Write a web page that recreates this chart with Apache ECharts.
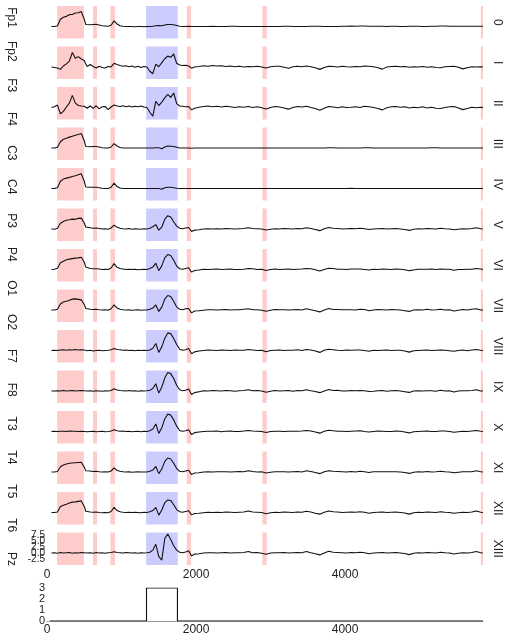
<!DOCTYPE html>
<html><head><meta charset="utf-8">
<script src="https://cdn.jsdelivr.net/npm/echarts@6/dist/echarts.min.js"></script>
<style>html,body{margin:0;padding:0;background:#fff}#c{width:510px;height:640px}</style>
</head><body><div id="c"></div><script>
// sample positions (shared by all channels)
const xs = [60,100,140,180,220,260,300,340,380,420,
 460,480,500,520,540,580,620,660,700,740,
 780,820,860,900,940,980,1020,1060,1100,1140,
 1180,1220,1260,1300,1340,1380,1420,1460,1500,1540,
 1580,1620,1660,1700,1740,1780,1820,1860,1900,1940,
 1980,
 2040,2100,2160,2220,2280,2340,2400,2460,2520,2580,
 2640,2700,2760,2820,2880,2940,3000,3060,3120,3180,
 3240,3300,3360,3420,3480,3540,3600,3660,3720,3780,
 3840,3900,3960,4020,4080,4140,4200,4260,4320,4380,
 4440,4500,4560,4620,4680,4740,4800,4860,4920,4980,
 5040,5100,5160,5220,5280,5340,5400,5460,5520,5580,
 5640,5700,5760,5820,5850];

const ch0 = [0,0,0.2,3.0,3.8,4.2,4.9,5.0,5.6,5.7,
 6.2,6.4,3.0,0.8,0.6,0.7,0.8,0.9,0.6,0.3,
 0.2,0.1,0.5,2.3,1.0,0.3,0.1,0,0,0,
 -0.1,0,0,-0.1,0,0,0.1,0.3,0.4,0.3,
 0.6,0.8,0.8,0.7,0.4,0.1,0,0,0.1,0,
 0,
 0,0,0,0.1,0,0,0,0.1,0.1,0,
 0,0,0,0,0,0,0,0,0,0.1,
 0.1,0,0,0,0,0.1,0.1,0.1,0,0,
 0,0,0.1,0.1,0.2,0.1,0.2,0.2,0.1,0.1,
 0.1,0.1,0,0.1,0.1,0,0,0.1,0.1,0.1,
 0,0,0.1,0.1,0.2,0.2,0.1,0.1,0.1,0.1,
 0.1,0.1,0.1,0.1,0.1];
const ch1 = [0,-0.2,-0.4,-1.0,0.4,1.3,2.4,6.0,3.6,4.3,
 3.3,2.9,2.7,1.2,0.2,1.0,0.2,-0.4,0.3,-0.2,
 -0.4,0.2,0.0,1.5,1.0,0.6,0.3,0.5,0.1,0.4,
 -0.1,0.3,-0.2,0.2,0.0,-1.8,-2.8,1.2,0.1,1.8,
 3.4,4.5,4.0,5.4,1.5,0.8,0.6,0.7,0.4,-0.5,
 0.0,
 0.2,0.5,0.3,0.6,0.4,0.5,0.2,0.4,0.1,0.3,
 0.0,0.2,0.1,0.3,0.0,-0.4,0.1,0.3,0.3,-0.1,
 -0.5,0.1,0.3,0.1,0.4,0.1,-0.3,-1.0,-0.2,0.3,
 0.2,0.0,0.3,0.1,0.0,0.2,0.1,0.4,0.3,0.1,
 -0.3,-0.9,0.0,0.2,0.3,0.1,0.2,-0.1,0.1,0.0,
 0.2,-0.1,0.1,-0.2,-0.3,0.1,0.2,0.3,-0.1,-0.8,
 -0.3,0.1,0.0,0.1,0.0];
const ch2 = [0,0.3,1.0,-2.6,-1.6,0.2,1.8,5.0,1.8,0.8,
 0.6,0.3,0.5,0.2,-0.3,0.6,-0.4,0.7,-0.6,0.3,
 0.4,-0.9,0.2,1.0,0.6,0.4,0.7,0.3,0.6,0.2,
 0.5,0.3,0.6,0.2,0.0,-2.0,-3.6,2.6,0.8,2.2,
 4.0,5.4,4.2,6.0,1.6,0.6,0.5,0.3,0.4,-1.0,
 -0.3,
 0.1,0.4,0.6,0.3,0.5,0.2,0.5,0.3,0.0,0.3,
 0.1,0.4,0.0,0.3,-0.1,-0.6,0.0,0.4,0.2,-0.2,
 -0.7,0.0,0.4,0.2,0.5,0.0,-0.4,-1.2,-0.3,0.4,
 0.2,-0.1,0.3,0.0,0.1,0.3,0.0,0.5,0.3,0.0,
 -0.4,-1.0,-0.1,0.3,0.4,0.1,0.3,-0.2,0.1,-0.1,
 0.3,-0.2,0.1,-0.3,-0.4,0.0,0.3,0.4,-0.2,-0.9,
 -0.4,0.1,-0.1,0.1,0.0];
const ch3 = [0,0,0.3,2.6,3.6,4.0,4.5,4.9,5.3,5.6,
 6.0,6.2,3.0,0.6,0.4,0.5,0.6,0.6,0.4,0.1,
 0,0,0.4,1.8,0.8,0.2,0,0,0,0,
 0,0,0,0,0,0,0,0.1,0.1,-0.3,
 0.4,0.8,0.7,0.6,0.3,0,0,0,0,-0.1,
 0,
 0,0,0,0,0,0,0,0,0,0,
 0,0,0,0,0,0,0,0,0,0,
 0,0,0,0,0,0,0,0,0,0.1,
 0.1,0,0,0,0,0,0,0.1,0.1,0,
 0,0,0,0,0,0,0,0,0,0,
 0,0,0.1,0.1,0,0,0,0,0,0,
 0,0,0,0,0];
const ch4 = [0,0,0.3,3.0,3.9,4.3,4.6,5.0,5.3,5.7,
 6.1,6.4,3.0,0.6,0.4,0.5,0.5,0.5,0.3,0.1,
 0,0,0.5,2.2,0.8,0.2,0,0,0,0,
 0,0,0,0,0,0,0,0,0,-0.3,
 0.3,0.5,0.5,0.3,0.1,0,0,0,0,0,
 0,
 0,0,0,0,0,0,0,0,0,0,
 0,0,0,0,0,0,0,0,0,0,
 0,0,0,0,0,0,0,0,0,0,
 0,0,0,0,0.1,0,0,0,0,0,
 0,0,0,0,0,0,0,0,0,0,
 0,0,0,0,0,0,0,0,0,0,
 0,0,0,0,0];
const ch5 = [0,-0.1,0.3,2.4,3.1,3.6,3.8,4.1,4.0,4.4,
 4.5,4.2,2.5,0.8,0.4,0.5,0.3,0.4,0.2,0.0,
 0.1,-0.1,0.4,1.6,0.7,0.3,0.1,0.0,0.2,-0.1,
 0.1,0.0,-0.1,0.1,0.0,0.3,0.9,1.8,-0.5,0.8,
 4.0,5.5,5.0,3.0,1.2,0.3,0.1,0.4,0.6,-1.0,
 -0.5,
 -0.3,0.0,0.1,0.0,0.1,0.0,0.2,0.1,0.0,0.1,
 0.2,0.5,0.2,0.1,0.0,-0.4,-0.1,0.1,0.0,0.2,
 0.1,0.0,0.2,0.1,0.5,0.2,-0.2,-0.7,0.1,0.6,
 0.3,0.2,0.0,0.1,0.2,0.1,0.3,0.1,-0.2,0.0,
 0.1,0.2,0.0,0.1,0.2,0.0,-0.2,-0.6,-0.1,0.1,
 0.0,0.2,0.1,0.0,0.3,0.1,0.0,-0.3,-0.1,0.1,
 0.0,0.2,0.5,0.1,0.0];
const ch6 = [0,0.1,0.5,2.8,3.4,4.0,4.3,4.5,4.7,4.8,
 5.1,4.9,3.0,1.0,0.5,0.4,0.3,0.3,0.2,0.0,
 0.1,0.0,0.6,2.4,0.9,0.4,0.2,0.0,0.1,0.0,
 0.1,-0.1,0.0,0.1,0.0,0.4,1.0,2.6,-0.5,1.5,
 4.8,6.2,5.8,3.8,1.4,0.3,0.1,0.4,0.7,-1.1,
 -0.4,
 -0.2,0.1,0.0,0.1,0.2,0.0,0.1,0.2,0.0,0.0,
 0.1,0.4,0.3,0.0,0.1,-0.4,0.0,0.2,0.0,0.1,
 0.2,0.0,0.1,0.2,0.4,0.3,-0.1,-0.6,0.0,0.5,
 0.4,0.1,0.1,0.0,0.2,0.2,0.2,0.0,-0.2,0.1,
 0.0,0.2,0.1,0.0,0.2,0.1,-0.1,-0.5,-0.2,0.1,
 0.1,0.1,0.2,0.0,0.2,0.1,0.1,-0.3,0.0,0.0,
 0.1,0.1,0.4,0.2,0.0];
const ch7 = [0,0,0.3,2.5,3.3,3.6,4.0,4.5,4.6,4.4,
 4.2,4.0,2.3,0.6,0.3,0.3,0.2,0.3,0.1,0.0,
 0.1,-0.1,0.5,2.1,0.8,0.3,0.1,0.0,0.1,-0.1,
 0.0,0.1,-0.1,0.0,0.0,0.3,0.8,2.1,-0.6,1.2,
 4.5,6.0,5.6,3.6,1.2,0.3,0.1,0.5,0.6,-1.2,
 -0.4,
 -0.3,-0.1,0.1,0.1,0.0,0.1,0.2,0.0,0.1,0.1,
 0.3,0.5,0.1,0.1,-0.1,-0.5,-0.1,0.2,0.1,0.1,
 0.0,0.1,0.2,0.0,0.5,0.1,-0.3,-0.8,0.0,0.6,
 0.2,0.2,0.1,0.1,0.1,0.0,0.3,0.2,-0.3,0.0,
 0.2,0.1,0.0,0.2,0.1,0.0,-0.3,-0.6,0.0,0.1,
 0.0,0.3,0.0,0.1,0.3,0.0,0.1,-0.4,-0.1,0.2,
 0.0,0.3,0.5,0.0,0.0];
const ch8 = [0,0.1,0.0,0.2,0.3,0.1,0.3,0.2,0.4,0.2,
 0.3,0.1,0.2,0.0,-0.1,0.1,-0.2,0.0,0.1,-0.1,
 0.0,0.1,0.3,0.8,0.4,0.3,0.1,0.2,0.0,0.1,
 -0.1,0.1,0.0,0.1,0.0,0.2,0.9,2.9,-0.8,1.5,
 5.0,7.3,7.0,5.0,2.5,0.5,0.1,0.3,0.8,-1.4,
 -0.6,
 -0.2,0.0,0.2,0.1,0.0,0.2,0.1,0.0,0.2,0.1,
 0.1,0.4,0.2,0.0,0.1,-0.5,0.0,0.1,0.2,0.0,
 0.1,0.1,0.3,0.0,0.4,0.2,-0.2,-0.8,0.1,0.5,
 0.3,0.1,0.0,0.2,0.1,0.2,0.2,0.0,-0.3,0.1,
 0.0,0.1,0.2,0.0,0.1,0.1,-0.2,-0.7,-0.1,0.0,
 0.1,0.2,0.0,0.1,0.2,0.1,-0.1,-0.3,0.0,0.2,
 -0.1,0.2,0.4,0.1,0.0];
const ch9 = [0,0.0,0.1,0.0,0.2,0.0,0.1,0.2,0.0,0.1,
 0.2,0.0,0.1,-0.1,0.0,0.1,-0.1,0.1,0.0,-0.1,
 0.1,0.0,0.2,0.9,0.4,0.2,0.1,0.0,0.2,0.0,
 0.1,-0.1,0.1,0.0,0.1,0.3,1.0,3.0,-0.9,1.6,
 5.4,7.7,7.2,5.2,2.4,0.5,0.1,0.3,0.8,-1.5,
 -0.7,
 -0.3,0.1,0.0,0.2,0.1,0.0,0.2,0.1,-0.1,0.1,
 0.2,0.5,0.1,0.2,0.0,-0.5,-0.1,0.2,0.0,0.1,
 0.2,-0.1,0.2,0.1,0.5,0.1,-0.2,-0.7,0.0,0.6,
 0.2,0.3,0.0,0.0,0.2,0.1,0.2,0.1,-0.2,-0.1,
 0.1,0.2,-0.1,0.1,0.2,0.0,-0.3,-0.6,0.0,0.1,
 0.0,0.1,0.1,-0.1,0.3,0.0,0.1,-0.4,0.0,0.1,
 0.1,0.2,0.5,0.0,0.0];
const ch10 = [0,0.1,0.0,0.1,0.1,0.0,0.2,0.1,0.1,0.0,
 0.1,0.2,0.0,0.1,-0.1,0.0,0.1,-0.1,0.0,0.1,
 -0.1,0.0,0.2,0.7,0.3,0.1,0.2,0.0,0.1,-0.1,
 0.0,0.1,-0.1,0.1,0.0,0.3,1.0,3.1,-0.8,1.5,
 5.2,7.2,6.8,4.8,2.2,0.4,0.1,0.3,0.7,-1.3,
 -0.5,
 -0.2,0.0,0.1,0.1,0.2,-0.1,0.1,0.2,0.0,0.0,
 0.2,0.4,0.2,0.1,0.0,-0.4,0.0,0.1,0.1,0.0,
 0.1,0.1,0.1,0.2,0.4,0.2,-0.2,-0.7,0.1,0.5,
 0.3,0.1,0.1,0.0,0.1,0.2,0.3,0.0,-0.2,0.0,
 0.2,0.1,0.0,0.0,0.2,0.1,-0.2,-0.6,-0.1,0.0,
 0.1,0.2,0.0,0.0,0.2,0.2,0.0,-0.3,-0.1,0.1,
 0.0,0.2,0.4,0.1,0.0];
const ch11 = [0,0.0,0.2,2.2,2.9,3.3,3.6,3.7,3.8,3.9,
 4.0,3.8,2.0,0.5,0.3,0.4,0.2,0.3,0.1,0.0,
 0.1,0.0,0.4,1.7,0.6,0.3,0.1,0.0,0.1,-0.1,
 0.0,0.1,0.0,0.0,0.0,0.3,0.8,2.3,-0.7,1.2,
 4.4,5.8,5.4,3.6,1.4,0.3,0.1,0.4,0.7,-1.1,
 -0.4,
 -0.3,0.0,0.1,0.0,0.1,0.1,0.1,0.0,0.1,0.2,
 0.1,0.5,0.2,0.0,0.1,-0.4,-0.1,0.1,0.1,0.1,
 0.0,0.1,0.2,0.0,0.5,0.2,-0.2,-0.7,0.1,0.5,
 0.3,0.2,0.1,0.0,0.2,0.0,0.3,0.1,-0.2,0.1,
 0.1,0.1,0.1,0.1,0.1,0.0,-0.2,-0.6,-0.1,0.1,
 0.0,0.2,0.0,0.1,0.3,0.1,0.0,-0.3,-0.1,0.1,
 0.1,0.1,0.5,0.1,0.0];
const ch12 = [0,0.0,0.2,2.5,3.0,3.4,3.9,4.3,4.4,4.6,
 4.8,4.6,2.5,0.5,0.0,0.2,0.1,0.2,0.0,-0.1,
 0.0,-0.1,0.4,2.1,0.8,0.3,0.1,0.0,0.1,0.0,
 0.1,0.0,-0.1,0.1,0.0,0.3,0.8,2.1,-1.1,1.0,
 4.0,5.2,5.0,3.2,1.2,0.3,0.1,0.4,0.7,-1.0,
 -0.4,
 -0.3,-0.1,0.1,0.0,0.1,0.0,0.2,0.1,0.0,0.1,
 0.2,0.6,0.2,0.1,0.0,-0.5,-0.1,0.1,0.0,0.2,
 0.1,0.0,0.2,0.1,0.5,0.2,-0.3,-0.7,0.1,0.6,
 0.3,0.2,0.0,0.1,0.2,0.1,0.3,0.1,-0.3,0.0,
 0.1,0.2,0.0,0.1,0.2,0.0,-0.2,-0.7,-0.1,0.1,
 0.0,0.2,0.1,0.0,0.3,0.1,0.0,-0.3,-0.1,0.1,
 0.0,0.2,0.6,0.1,0.0];
const ch13 = [0,0.1,-0.1,0.2,0.0,0.1,0.2,-0.1,0.1,0.0,
 0.2,0.0,0.1,-0.2,0.0,0.1,-0.1,0.2,0.0,0.1,
 -0.1,0.1,0.2,0.5,0.2,0.1,0.0,0.2,0.1,0.0,
 0.1,-0.1,0.1,0.0,0.1,0.3,1.2,3.6,-1.5,-3.0,
 6.0,7.9,5.6,3.0,1.2,0.3,0.1,0.4,0.9,-1.2,
 -0.5,
 -0.3,0.0,0.1,0.1,0.0,0.1,0.2,0.0,0.1,0.1,
 0.2,0.6,0.1,0.2,-0.1,-0.5,0.0,0.1,0.1,0.2,
 0.0,0.1,0.2,0.1,0.6,0.1,-0.3,-0.8,0.0,0.7,
 0.3,0.2,0.1,0.0,0.2,0.1,0.3,0.1,-0.3,0.0,
 0.1,0.2,0.0,0.1,0.2,0.0,-0.2,-0.7,-0.1,0.1,
 0.0,0.2,0.1,0.0,0.3,0.1,0.0,-0.4,-0.1,0.1,
 0.0,0.2,0.6,0.1,0.0];

const leftLabels = ['Fp1','Fp2','F3','F4','C3','C4','P3','P4','O1','O2','F7','F8','T3','T4','T5','T6','Pz'];
const rightLabels = ['0','I','II','III','IV','V','VI','VII','VIII','IX','X','XI','XII','XIII'];
const redBands = [[135,495],[617,671],[850,913],[1875,1933],[2890,2949],[5821,5850]];
const blueBands = [[1330,1755]];
const stepX = [40,1335,1335,1750,1750,5850];
const stepY = [0,0,3,3,0,0];

const channels = [ch0,ch1,ch2,ch3,ch4,ch5,ch6,ch7,ch8,ch9,ch10,ch11,ch12,ch13];

// layout
const L = 47, W = 436, T0 = 6, PITCH = 40.5, H = 32.5, XMAX = 5850;
const FONT = 'Liberation Sans, Arial, sans-serif';
const grid = [], xAxis = [], yAxis = [], series = [], graphic = [];

const bandData = redBands.map(b => [{xAxis: b[0]}, {xAxis: b[1]}])
  .concat(blueBands.map(b => [{xAxis: b[0], itemStyle: {color: 'rgba(0,0,255,0.2)'}}, {xAxis: b[1]}]));

channels.forEach((ch, i) => {
  const last = i === channels.length - 1;
  grid.push({left: L, top: T0 + PITCH * i, width: W, height: H});
  xAxis.push({gridIndex: i, type: 'value', min: 0, max: XMAX, interval: 2000,
    axisLine: {show: false}, axisTick: {show: false}, splitLine: {show: false},
    axisLabel: {show: last, margin: 4, fontSize: 12, color: '#222', fontFamily: FONT, showMaxLabel: false,
      formatter: v => String(v)}});
  yAxis.push({gridIndex: i, type: 'value', min: -5, max: 8.5, interval: 2.5,
    axisLine: {show: false}, axisTick: {show: false}, splitLine: {show: false},
    axisLabel: {show: last, margin: 2, fontSize: 10, color: '#222', fontFamily: FONT,
      showMinLabel: false, showMaxLabel: false, formatter: v => v.toFixed(1)}});
  series.push({type: 'line', xAxisIndex: i, yAxisIndex: i, showSymbol: false, symbol: 'none',
    data: xs.map((x, k) => [x, ch[k]]),
    lineStyle: {color: '#111', width: 1.1}, z: 3,
    markArea: {silent: true, itemStyle: {color: 'rgba(255,0,0,0.2)'}, data: bandData}});
  graphic.push({type: 'text', x: 497, y: T0 + PITCH * i + H / 2, rotation: -Math.PI / 2,
    style: {text: rightLabels[i], fontSize: 12, fontFamily: FONT, fill: '#222', align: 'center', verticalAlign: 'middle'}});
});

// bottom panel
const bi = channels.length;
grid.push({left: L, top: 588, width: W, height: 33});
xAxis.push({gridIndex: bi, type: 'value', min: 0, max: XMAX, interval: 2000,
  axisLine: {show: true, lineStyle: {color: '#999', width: 1}}, axisTick: {show: false}, splitLine: {show: false},
  axisLabel: {margin: 3, fontSize: 12, color: '#222', fontFamily: FONT, showMaxLabel: false, formatter: v => String(v)}});
yAxis.push({gridIndex: bi, type: 'value', min: 0, max: 3, interval: 1,
  axisLine: {show: false}, axisTick: {show: false}, splitLine: {show: false},
  axisLabel: {margin: 2, fontSize: 11, color: '#222', fontFamily: FONT}});
series.push({type: 'line', xAxisIndex: bi, yAxisIndex: bi, showSymbol: false, symbol: 'none',
  data: stepX.map((x, k) => [x, stepY[k]]), lineStyle: {color: '#111', width: 1.1}, z: 3});

// left channel names, evenly spread down the left margin
const LTOP = 17.5, LBOT = 559;
leftLabels.forEach((t, i) => {
  graphic.push({type: 'text', x: 11, y: LTOP + (LBOT - LTOP) * i / (leftLabels.length - 1), rotation: -Math.PI / 2,
    style: {text: t, fontSize: 12, fontFamily: FONT, fill: '#222', align: 'center', verticalAlign: 'middle'}});
});

const chart = echarts.init(document.getElementById('c'), null, {renderer: 'canvas'});
chart.setOption({animation: false, backgroundColor: '#fff', grid, xAxis, yAxis, series, graphic});
</script></body></html>
